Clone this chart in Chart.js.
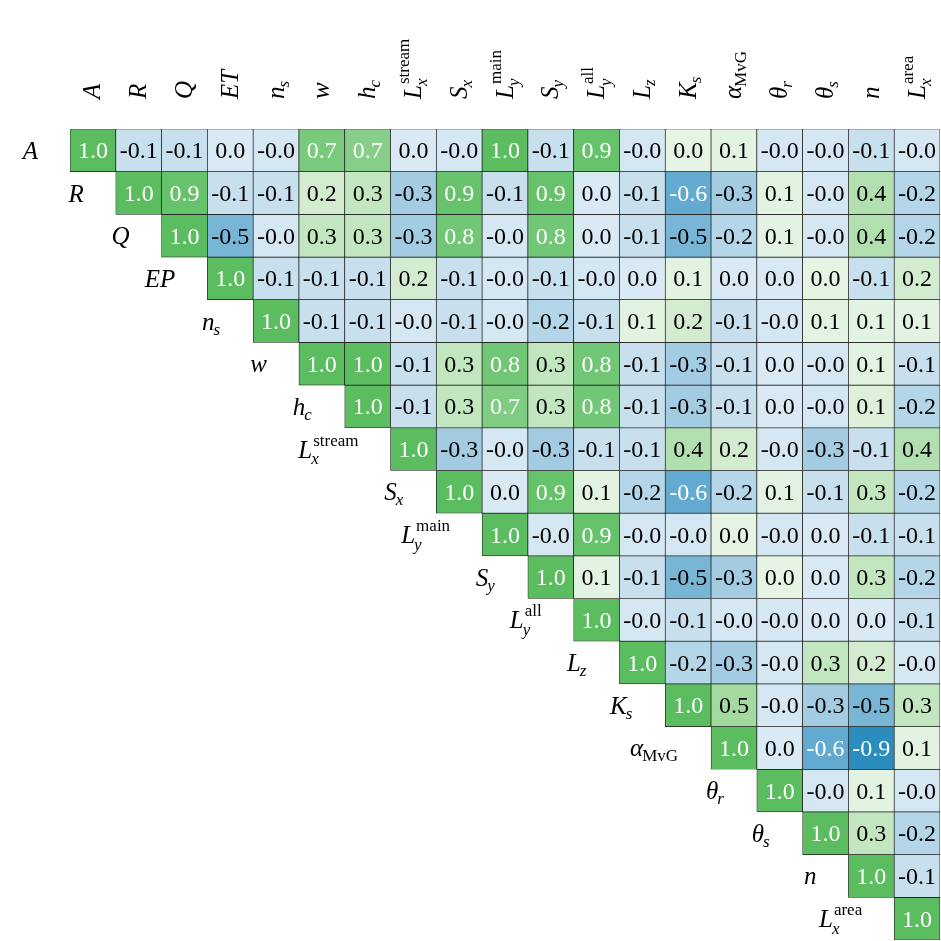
<!DOCTYPE html>
<html>
<head>
<meta charset="utf-8">
<script src="https://cdn.jsdelivr.net/npm/chart.js@4.4.0/dist/chart.umd.min.js"></script>
<style>
  body { margin: 0; background: #fff; }
  canvas { display: block; }
</style>
</head>
<body>
<canvas id="corrChart" width="941" height="941"></canvas>
<script>
// labels, written as base_sub^sup
var colLabels = ['A', 'R', 'Q', 'ET', 'n_s', 'w', 'h_c', 'L_x^stream', 'S_x', 'L_y^main',
  'S_y', 'L_y^all', 'L_z', 'K_s', 'α_MvG', 'θ_r', 'θ_s', 'n', 'L_x^area'];
var rowLabels = ['A', 'R', 'Q', 'EP', 'n_s', 'w', 'h_c', 'L_x^stream', 'S_x', 'L_y^main',
  'S_y', 'L_y^all', 'L_z', 'K_s', 'α_MvG', 'θ_r', 'θ_s', 'n', 'L_x^area'];

// upper triangle, each row starts on the diagonal
// (second decimal is a guess from the cell shade, e.g. "-0.0" vs bluish/greenish "0.0")
var rowA     = [1.0, -0.1, -0.1, 0.02, -0.02, 0.74, 0.66, 0.02, -0.02, 1.0, -0.1, 0.9, -0.02, 0.045, 0.1, -0.02, -0.02, -0.1, -0.02];
var rowR     = [1.0, 0.9, -0.1, -0.1, 0.2, 0.3, -0.3, 0.9, -0.1, 0.9, 0.02, -0.1, -0.6, -0.3, 0.1, -0.02, 0.4, -0.2];
var rowQ     = [1.0, -0.5, -0.02, 0.3, 0.3, -0.3, 0.8, -0.02, 0.8, 0.02, -0.1, -0.5, -0.2, 0.1, -0.02, 0.4, -0.2];
var rowEP    = [1.0, -0.1, -0.1, -0.1, 0.2, -0.1, -0.02, -0.1, -0.02, 0.02, 0.1, 0.02, 0.02, 0.045, -0.1, 0.2];
var rowNs    = [1.0, -0.1, -0.1, -0.02, -0.1, -0.02, -0.2, -0.1, 0.1, 0.2, -0.1, -0.02, 0.1, 0.1, 0.1];
var rowW     = [1.0, 1.0, -0.1, 0.3, 0.8, 0.3, 0.8, -0.1, -0.3, -0.1, 0.02, -0.02, 0.1, -0.1];
var rowHc    = [1.0, -0.1, 0.3, 0.7, 0.3, 0.8, -0.1, -0.3, -0.1, 0.02, -0.02, 0.14, -0.2];
var rowLxs   = [1.0, -0.3, -0.02, -0.3, -0.1, -0.1, 0.4, 0.2, -0.02, -0.3, -0.1, 0.4];
var rowSx    = [1.0, 0.02, 0.9, 0.1, -0.2, -0.6, -0.2, 0.1, -0.1, 0.3, -0.2];
var rowLym   = [1.0, -0.02, 0.9, -0.02, -0.02, 0.045, -0.02, 0.02, -0.1, -0.1];
var rowSy    = [1.0, 0.1, -0.1, -0.5, -0.3, 0.045, 0.02, 0.3, -0.2];
var rowLya   = [1.0, -0.02, -0.1, -0.02, -0.02, 0.02, 0.02, -0.1];
var rowLz    = [1.0, -0.2, -0.3, -0.02, 0.3, 0.2, -0.02];
var rowKs    = [1.0, 0.5, -0.02, -0.3, -0.5, 0.3];
var rowAlpha = [1.0, 0.02, -0.6, -0.9, 0.1];
var rowThr   = [1.0, -0.02, 0.1, -0.02];
var rowThs   = [1.0, 0.3, -0.2];
var rowN     = [1.0, -0.1];
var rowLxa   = [1.0];

var corrRows = [rowA, rowR, rowQ, rowEP, rowNs, rowW, rowHc, rowLxs, rowSx, rowLym,
  rowSy, rowLya, rowLz, rowKs, rowAlpha, rowThr, rowThs, rowN, rowLxa];

// blue -> pale -> green
var colorStops = [
  [-0.9, '#2b8cbe'], [-0.6, '#63aad0'], [-0.5, '#79b6d6'], [-0.3, '#a3cbe2'],
  [-0.2, '#b4d6e8'], [-0.1, '#c8e0ee'], [0.03, '#dbebf4'], [0.04, '#e6f4e4'],
  [0.1, '#e3f3e1'], [0.2, '#d3ecd0'], [0.3, '#c2e6bf'], [0.4, '#b2dfaf'],
  [0.5, '#a4d9a0'], [0.7, '#80cc82'], [0.8, '#71c776'], [0.9, '#67c36b'], [1.0, '#5bbd60']
];

function hexToRgb(h) {
  return [parseInt(h.substr(1, 2), 16), parseInt(h.substr(3, 2), 16), parseInt(h.substr(5, 2), 16)];
}

function cellColor(v) {
  if (v <= colorStops[0][0]) return colorStops[0][1];
  for (var k = 1; k < colorStops.length; k++) {
    if (v <= colorStops[k][0]) {
      var a = colorStops[k - 1], b = colorStops[k];
      var t = (v - a[0]) / (b[0] - a[0]);
      var ca = hexToRgb(a[1]), cb = hexToRgb(b[1]);
      return 'rgb(' + ca.map(function (c, i) { return Math.round(c + (cb[i] - c) * t); }).join(',') + ')';
    }
  }
  return colorStops[colorStops.length - 1][1];
}

var datasets = corrRows.map(function (vals, i) {
  var data = [], bg = [];
  for (var j = 0; j < colLabels.length; j++) {
    if (j < i) {
      data.push(null);
      bg.push('rgba(0,0,0,0)');
    } else {
      data.push([i, i + 1]);
      bg.push(cellColor(vals[j - i]));
    }
  }
  return {
    data: data,
    backgroundColor: bg,
    borderColor: '#1a1a1a',
    borderWidth: 0.7,
    borderSkipped: false,
    grouped: false,
    barPercentage: 1,
    categoryPercentage: 1
  };
});

var FONT = '"Liberation Serif", "Times New Roman", serif';

// draws base_sub^sup, starting at x (or ending at x when alignRight)
function drawMath(ctx, label, x, y, alignRight, supUp, subDown) {
  var m = label.match(/^([^_^]+)(?:_([^^]+))?(?:\^(.+))?$/);
  var base = m[1], sub = m[2] || '', sup = m[3] || '';
  var baseFont = 'italic 25px ' + FONT;
  var subFont = (sub.length > 1 ? '' : 'italic ') + '17px ' + FONT;
  var supFont = (sup.length > 1 ? '' : 'italic ') + '17px ' + FONT;
  ctx.font = baseFont;
  var bw = ctx.measureText(base).width;
  ctx.font = subFont;
  var sw = sub ? ctx.measureText(sub).width : 0;
  ctx.font = supFont;
  var pw = sup ? ctx.measureText(sup).width : 0;
  var total = bw + Math.max(sw, pw ? pw + 1 : 0);
  var x0 = alignRight ? x - total : x;
  ctx.textAlign = 'left';
  ctx.textBaseline = 'alphabetic';
  ctx.font = baseFont;
  ctx.fillText(base, x0, y);
  if (sub) {
    ctx.font = subFont;
    ctx.fillText(sub, x0 + bw - 1, y + (sup ? subDown + 1.5 : subDown));
  }
  if (sup) {
    ctx.font = supFont;
    ctx.fillText(sup, x0 + bw + 1, y - supUp);
  }
}

var labelPlugin = {
  id: 'corrLabels',
  afterDatasetsDraw: function (chart) {
    var ctx = chart.ctx;
    var xs = chart.scales.x, ys = chart.scales.y;
    ctx.save();

    // numbers in the cells
    corrRows.forEach(function (vals, i) {
      var meta = chart.getDatasetMeta(i);
      for (var j = i; j < colLabels.length; j++) {
        var p = meta.data[j].getProps(['x', 'y', 'base'], true);
        var v = vals[j - i];
        ctx.font = '24px ' + FONT;
        ctx.textAlign = 'center';
        ctx.textBaseline = 'alphabetic';
        ctx.fillStyle = Math.abs(v) >= 0.55 ? '#ffffff' : '#000000';
        ctx.fillText(v.toFixed(1), p.x, (p.y + p.base) / 2 + 8);
      }
    });

    ctx.fillStyle = '#000';
    var colW = xs.getPixelForValue(1) - xs.getPixelForValue(0);
    // row labels, left of the diagonal cell
    rowLabels.forEach(function (lab, i) {
      var left = xs.getPixelForValue(i) - colW / 2;
      var cy = (ys.getPixelForValue(i) + ys.getPixelForValue(i + 1)) / 2;
      drawMath(ctx, lab, left - 32, cy + 8.5, true, 12, 5);
    });

    // column labels, rotated, above the grid
    colLabels.forEach(function (lab, j) {
      var cx = xs.getPixelForValue(j);
      ctx.save();
      ctx.translate(cx + 7.5, 99);
      ctx.rotate(-Math.PI / 2);
      drawMath(ctx, lab, 0, 0, false, 11.5, 5);
      ctx.restore();
    });
    ctx.restore();
  }
};

var ctx = document.getElementById('corrChart');
var corrChart = new Chart(ctx, {
  type: 'bar',
  data: {
    labels: colLabels,
    datasets: datasets
  },
  options: {
    responsive: false,
    animation: false,
    devicePixelRatio: 1,
    layout: { padding: { left: 70, top: 129, right: 1, bottom: 1 } },
    scales: {
      x: { display: false },
      y: { type: 'linear', min: 0, max: 19, reverse: true, display: false }
    },
    plugins: {
      legend: { display: false },
      tooltip: { enabled: false }
    }
  },
  plugins: [labelPlugin]
});
</script>
</body>
</html>
